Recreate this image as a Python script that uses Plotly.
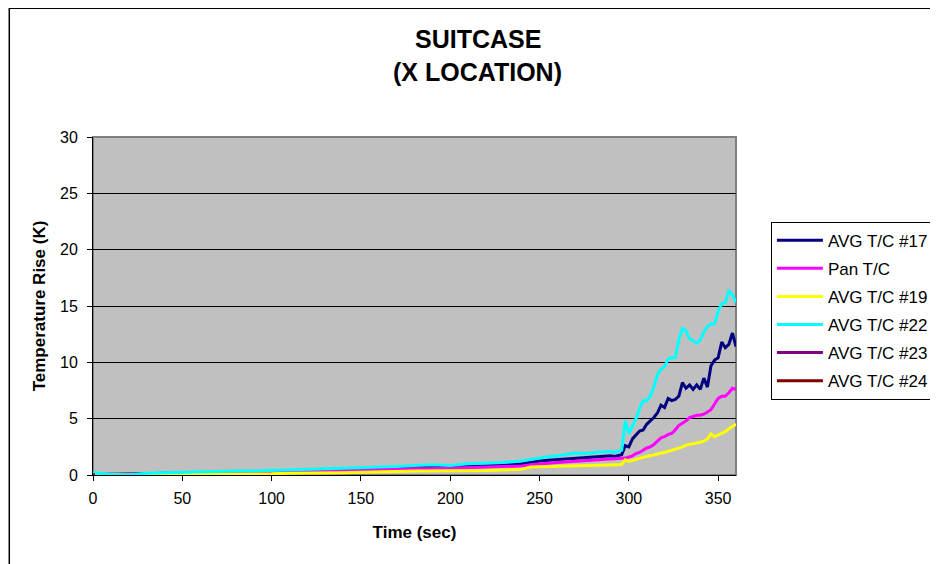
import plotly.graph_objects as go

# time axis (sec)
time = [0, 10, 20, 30, 40, 50, 60, 70, 80, 90, 100, 110, 120, 130, 140, 150, 160, 170, 180, 190,
        200, 210, 220, 230, 240,
        245, 250, 255, 260, 265, 270, 275, 280, 285, 290,
        292, 294, 296, 298, 300, 302, 304, 306, 308, 310,
        312, 314, 316, 318, 320, 322, 324, 326, 328, 330,
        332, 334, 336, 338, 340, 342, 344, 346, 348, 350,
        352, 354, 356, 358, 360]

avg_17 = [0.05, 0.05, 0.05, 0.1, 0.15, 0.15, 0.2, 0.2, 0.25, 0.25, 0.3, 0.3, 0.35, 0.4, 0.45, 0.5, 0.5, 0.55, 0.65, 0.7,
          0.7, 0.8, 0.85, 0.9, 1.0,
          1.15, 1.25, 1.3, 1.35, 1.4, 1.5, 1.55, 1.6, 1.65, 1.7,
          1.65, 1.75, 1.8, 2.6, 2.5, 3.2, 3.6, 3.9, 4.0, 4.5,
          4.8, 5.1, 5.5, 6.2, 6.0, 6.8, 6.6, 6.7, 7.0, 8.2,
          7.7, 8.0, 7.6, 8.0, 7.6, 8.6, 7.8, 9.7, 10.2, 10.4,
          11.8, 11.3, 11.6, 12.6, 11.4]

pan_tc = [0.0, 0.0, 0.05, 0.05, 0.1, 0.1, 0.15, 0.15, 0.2, 0.2, 0.25, 0.25, 0.3, 0.35, 0.35, 0.45, 0.45, 0.5, 0.55, 0.55,
          0.6, 0.6, 0.65, 0.7, 0.8,
          0.9, 1.0, 1.05, 1.1, 1.15, 1.2, 1.25, 1.3, 1.35, 1.4,
          1.4, 1.45, 1.45, 1.5, 1.6, 1.7, 1.9, 2.0, 2.2, 2.4,
          2.5, 2.7, 3.0, 3.3, 3.4, 3.6, 3.7, 4.0, 4.4, 4.6,
          4.8, 5.1, 5.2, 5.3, 5.3, 5.4, 5.6, 5.8, 6.3, 6.8,
          7.0, 7.0, 7.3, 7.7, 7.6]

avg_19 = [0.05, 0.0, 0.0, 0.05, 0.05, 0.05, 0.05, 0.1, 0.1, 0.1, 0.1, 0.15, 0.15, 0.2, 0.2, 0.25, 0.25, 0.3, 0.35, 0.35,
          0.35, 0.4, 0.4, 0.45, 0.5,
          0.7, 0.72, 0.72, 0.75, 0.78, 0.8, 0.82, 0.85, 0.85, 0.9,
          0.9, 0.9, 0.95, 1.35, 1.2, 1.3, 1.4, 1.45, 1.55, 1.65,
          1.7, 1.8, 1.9, 1.95, 2.0, 2.1, 2.15, 2.25, 2.4, 2.5,
          2.65, 2.7, 2.8, 2.85, 2.9, 3.0, 3.2, 3.65, 3.4, 3.55,
          3.7, 3.85, 4.1, 4.3, 4.5]

avg_22 = [0.2, 0.05, 0.0, 0.15, 0.2, 0.25, 0.3, 0.3, 0.35, 0.35, 0.4, 0.45, 0.5, 0.5, 0.6, 0.65, 0.7, 0.75, 0.85, 0.9,
          0.85, 1.0, 1.05, 1.1, 1.25,
          1.4, 1.55, 1.65, 1.7, 1.8, 1.95, 1.9, 1.95, 2.0, 2.1,
          2.0, 2.1, 2.2, 4.8, 3.7, 4.3, 5.0, 5.9, 6.6, 6.6,
          7.0, 7.8, 8.9, 9.4, 9.6, 10.3, 10.4, 10.4, 12.0, 13.0,
          12.8, 12.1, 11.9, 11.7, 12.0, 12.7, 13.2, 13.4, 13.4, 14.5,
          15.2, 15.3, 16.4, 16.0, 15.3]

# #23 and #24 barely show: only a speck at the origin
short_time = [0, 1]
avg_23 = [0.0, 0.0]
avg_24 = [0.0, 0.0]

FONT = "Arial, Liberation Sans, sans-serif"

series = [
    ("AVG T/C #17", time, avg_17, "#000080"),
    ("Pan T/C", time, pan_tc, "#FF00FF"),
    ("AVG T/C #19", time, avg_19, "#FFFF00"),
    ("AVG T/C #22", time, avg_22, "#00FFFF"),
    ("AVG T/C #23", short_time, avg_23, "#800080"),
    ("AVG T/C #24", short_time, avg_24, "#800000"),
]

fig = go.Figure()
for name, xs, ys, color in series:
    fig.add_trace(go.Scatter(
        x=xs, y=ys, name=name, mode="lines",
        line=dict(color=color, width=3),
        legendgroup=name,
    ))

# gray frame of the plot area
fig.add_shape(type="rect", xref="paper", yref="paper", x0=0, y0=0, x1=1, y1=1,
              line=dict(color="#808080", width=2), layer="below")

# outer chart border (left and top edges show)
fig.add_shape(type="rect", xref="paper", yref="paper",
              x0=-0.1302, y0=-0.32, x1=1.40, y1=1.3807,
              line=dict(color="black", width=1.5))

fig.add_annotation(x=0.5984, y=1.289, xref="paper", yref="paper",
                   text="<b>SUITCASE</b>", showarrow=False,
                   font=dict(size=25, color="black", family=FONT),
                   xanchor="center", yanchor="middle")
fig.add_annotation(x=0.5984, y=1.191, xref="paper", yref="paper",
                   text="<b>(X LOCATION)</b>", showarrow=False,
                   font=dict(size=25, color="black", family=FONT),
                   xanchor="center", yanchor="middle")

fig.update_layout(
    width=938, height=564,
    margin=dict(l=85, r=208, t=129, b=97),
    paper_bgcolor="white",
    plot_bgcolor="#C0C0C0",
    font=dict(family=FONT, color="black", size=16),
    showlegend=True,
    legend=dict(
        x=1.0543, y=0.7496, xanchor="left", yanchor="top",
        bordercolor="black", borderwidth=1, bgcolor="white",
        font=dict(size=17, family=FONT, color="black"),
        tracegroupgap=3, itemwidth=46,
    ),
)

fig.update_xaxes(
    range=[0, 360], tickvals=[0, 50, 100, 150, 200, 250, 300, 350],
    showgrid=False, zeroline=False,
    showline=True, linecolor="black", linewidth=1,
    ticks="outside", ticklen=5, tickcolor="black",
    tickfont=dict(size=16), ticklabelstandoff=4,
    title=dict(text="<b>Time (sec)</b>", font=dict(size=17), standoff=19),
)
fig.update_yaxes(
    range=[0, 30], tickvals=[0, 5, 10, 15, 20, 25, 30],
    showgrid=True, gridcolor="black", gridwidth=1, zeroline=False,
    showline=True, linecolor="black", linewidth=1,
    ticks="outside", ticklen=5, tickcolor="black",
    tickfont=dict(size=16), ticklabelstandoff=6,
    title=dict(text="<b>Temperature Rise (K)</b>", font=dict(size=17), standoff=10),
)

fig.write_html("out.html")
